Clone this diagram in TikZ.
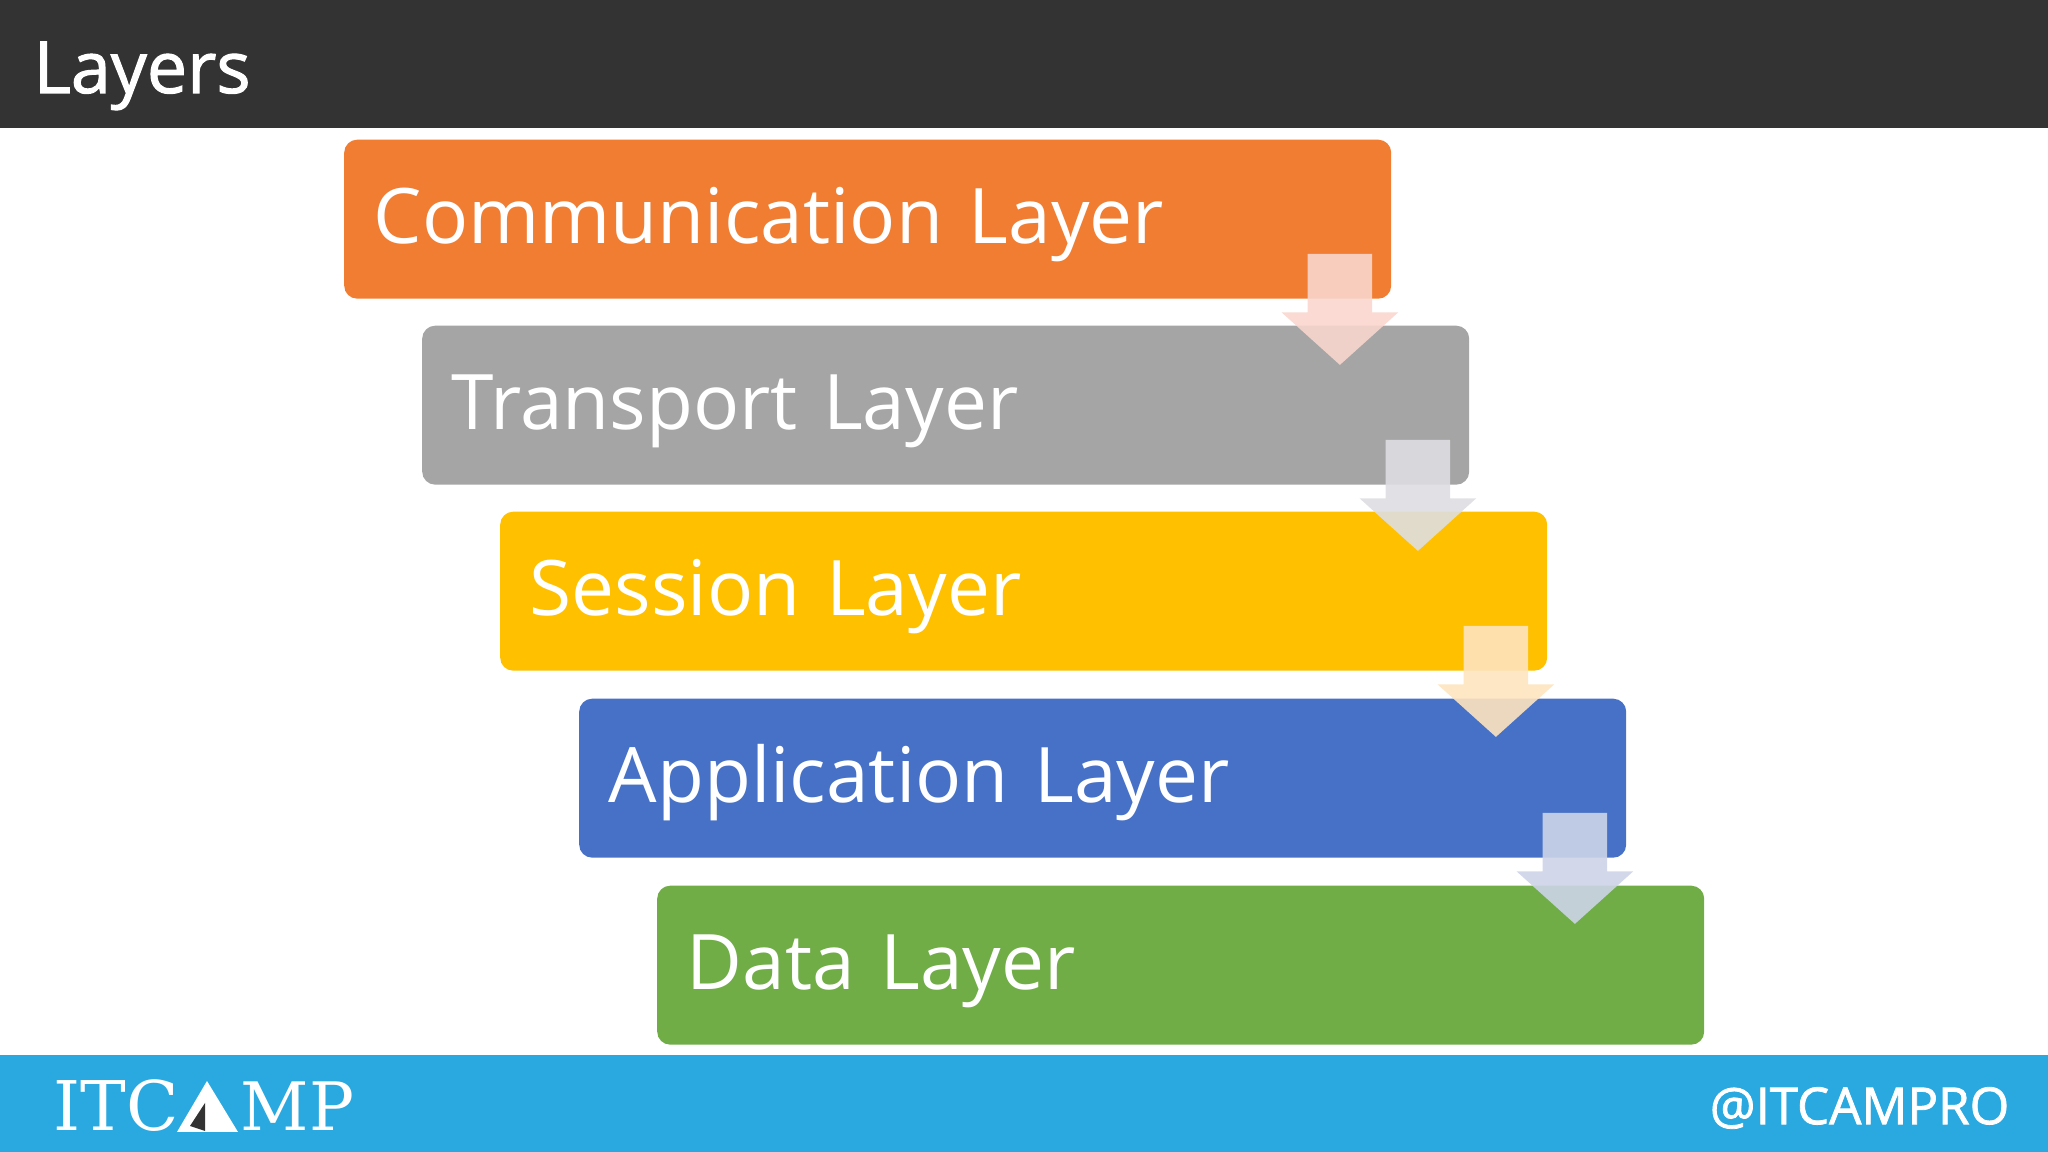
\documentclass[tikz,border=0pt]{standalone}
\usepackage{fontspec}
\setmainfont{Open Sans}
\newfontfamily\logofont{DejaVu Serif}
\newfontfamily\semifont[FakeBold=1.5]{Open Sans}
\usetikzlibrary{positioning,shapes.arrows}
\definecolor{headgray}{HTML}{333333}
\definecolor{footblue}{HTML}{29A9E0}
\definecolor{commfill}{HTML}{F07D32}
\definecolor{transfill}{HTML}{A5A5A5}
\definecolor{sessfill}{HTML}{FFC000}
\definecolor{applfill}{HTML}{4671C6}
\definecolor{datafill}{HTML}{70AD47}
\begin{document}
\begin{tikzpicture}
		\tikzset{layer/.style = {shape=rectangle,anchor=north west,rounded corners=0.13cm,text=white,align=left,
			minimum width=10.47cm,minimum height=1.59cm,text width=9.88cm,inner xsep=0.295cm,inner ysep=0pt,
			text height=0.49cm,text depth=0pt,
			font=\fontsize{21.8}{26}\selectfont}}
		\tikzset{flow/.style = {shape=single arrow,rotate=-90,fill opacity=0.9,inner sep=0pt,
			text height=0.63cm,text depth=0pt,
			minimum height=1.11cm,minimum width=1.15cm,single arrow head extend=0.26cm,
			single arrow tip angle=96}}
		\useasboundingbox (0,0) rectangle (20.48,11.52);

		% bars
		\fill[headgray] (0,10.24) rectangle (20.48,11.52);
		\fill[footblue] (0,0) rectangle (20.48,0.97);
		\node[text=white,anchor=west,inner sep=0pt,font=\semifont\fontsize{20.4}{24}\selectfont] (title) at (0.33,10.76){Layers};

		% layers
		\node[layer,fill=commfill] (comm) at (3.435,10.13){Communication Layer};
		\node[layer,fill=transfill] (trans) at (4.215,8.27){Transport Layer};
		\node[layer,fill=sessfill] (sess) at (4.995,6.41){Session Layer};
		\node[layer,fill=applfill] (appl) at (5.785,4.54){Application Layer};
		\node[layer,fill=datafill] (data) at (6.565,2.67){Data Layer};

		% arrows
		\node[flow,fill={rgb,255:red,249;green,214;blue,205}] (flow1) at ([xshift=-0.52cm,yshift=0.045cm]comm.south east){};
		\node[flow,fill={rgb,255:red,222;green,222;blue,226}] (flow2) at ([xshift=-0.52cm,yshift=0.045cm]trans.south east){};
		\node[flow,fill={rgb,255:red,253;green,228;blue,190}] (flow3) at ([xshift=-0.52cm,yshift=0.045cm]sess.south east){};
		\node[flow,fill={rgb,255:red,205;green,212;blue,232}] (flow4) at ([xshift=-0.52cm,yshift=0.045cm]appl.south east){};

		% logo
		\node[text=white,anchor=west,inner sep=0pt,font=\logofont\fontsize{19.5}{24}\selectfont] (itc) at (0.53,0.46){ITC};
		\fill[white] (1.77,0.20) -- (2.07,0.71) -- (2.38,0.20) -- cycle;
		\fill[headgray] (2.05,0.49) -- (1.90,0.26) -- (2.05,0.21) -- cycle;
		\node[text=white,anchor=west,inner sep=0pt,font=\logofont\fontsize{19}{24}\selectfont] (mp) at (2.40,0.46){MP};
		\node[text=white,anchor=east,inner sep=0pt,font=\semifont\fontsize{14.5}{18}\selectfont] (handle) at (20.10,0.44){@ITCAMPRO};
	\end{tikzpicture}
\end{document}
